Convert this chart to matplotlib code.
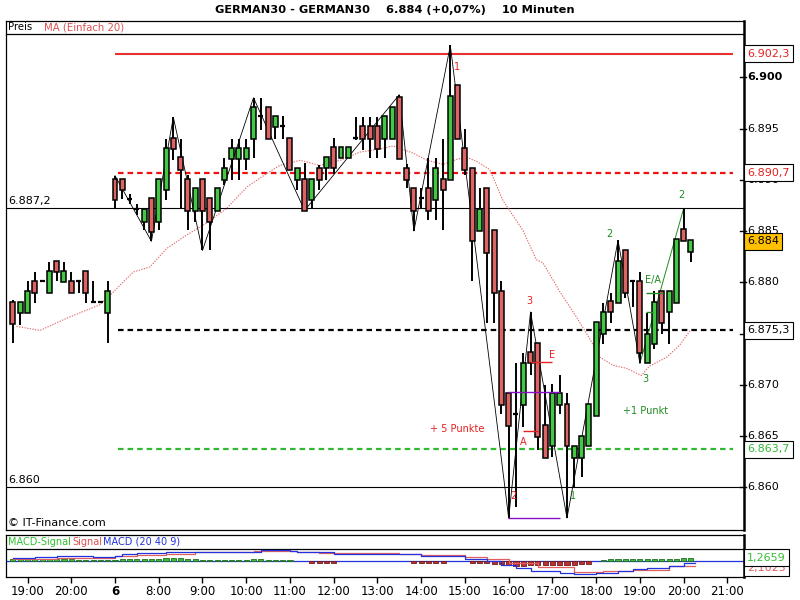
import matplotlib
matplotlib.use("Agg")
import matplotlib.pyplot as plt
import numpy as np

# ---------------- data ----------------
idx = list(range(-14, 80))
opens = [6878.1, 6877.0, 6877.0, 6880.1, 6880.1, 6879.0, 6882.1, 6880.0, 6880.1, 6880.1, 6881.1, 6878.1, 6878.1, 6877.0,
         6890.1, 6890.1, 6888.1, 6887.1, 6885.9, 6888.2, 6885.9, 6889.0, 6894.1, 6892.2, 6890.1, 6887.0, 6890.1, 6888.2,
         6887.0, 6890.0, 6892.0, 6892.0, 6892.0, 6894.0, 6896.2, 6897.1, 6895.1, 6895.2, 6894.1, 6890.0, 6890.1, 6888.0,
         6891.1, 6891.1, 6893.2, 6892.1, 6892.1, 6894.1, 6895.2, 6895.2, 6895.2, 6894.0, 6894.0, 6898.1, 6891.1, 6889.2,
         6888.2, 6889.2, 6888.0, 6890.1, 6890.0, 6899.2, 6893.1, 6891.1, 6885.0, 6889.2, 6885.1, 6879.1, 6869.2, 6867.1,
         6868.0, 6873.2, 6874.1, 6866.1, 6864.0, 6868.0, 6868.1, 6862.9, 6862.9, 6864.0, 6867.0, 6875.0, 6878.2, 6878.0,
         6883.1, 6880.1, 6880.1, 6872.1, 6874.0, 6879.1, 6877.1, 6878.0, 6885.2, 6883.0]
highs = [6878.3, 6878.1, 6880.1, 6881.0, 6880.1, 6882.0, 6882.1, 6882.0, 6881.0, 6880.1, 6881.1, 6880.1, 6878.1, 6880.1,
         6890.4, 6890.1, 6888.6, 6887.6, 6887.1, 6888.2, 6890.1, 6894.0, 6896.1, 6894.0, 6890.5, 6889.2, 6890.1, 6888.2,
         6889.2, 6892.1, 6894.0, 6894.0, 6894.0, 6898.0, 6898.0, 6897.1, 6896.2, 6896.2, 6894.1, 6891.1, 6891.6, 6890.1,
         6891.4, 6892.2, 6894.1, 6893.2, 6893.2, 6896.1, 6896.1, 6896.1, 6896.1, 6896.2, 6897.1, 6898.3, 6891.5, 6889.2,
         6889.2, 6892.1, 6892.1, 6894.0, 6903.1, 6899.2, 6895.0, 6891.1, 6889.2, 6889.2, 6885.1, 6880.1, 6869.2, 6872.1,
         6873.1, 6877.1, 6874.1, 6870.0, 6870.1, 6871.0, 6869.2, 6864.0, 6865.0, 6868.1, 6876.1, 6878.0, 6879.0, 6884.1,
         6883.1, 6880.1, 6881.0, 6877.0, 6879.1, 6879.1, 6879.1, 6884.2, 6887.2, 6884.1]
lows = [6874.1, 6875.8, 6877.0, 6878.0, 6880.1, 6879.0, 6880.1, 6880.0, 6879.0, 6879.0, 6878.0, 6878.1, 6878.1, 6874.1,
        6887.1, 6888.1, 6887.6, 6886.6, 6885.1, 6884.0, 6885.1, 6888.0, 6891.9, 6887.1, 6885.1, 6885.9, 6883.1, 6883.1,
        6887.0, 6889.5, 6890.0, 6890.0, 6891.0, 6892.1, 6894.9, 6894.0, 6894.0, 6894.0, 6891.0, 6889.0, 6887.0, 6887.1,
        6889.0, 6890.0, 6890.6, 6892.1, 6892.1, 6893.9, 6892.9, 6892.1, 6892.1, 6892.1, 6894.0, 6892.0, 6889.2, 6885.0,
        6887.1, 6886.1, 6886.1, 6885.1, 6890.0, 6894.0, 6890.5, 6880.1, 6885.0, 6876.0, 6876.0, 6867.1, 6857.0, 6858.1,
        6865.9, 6871.0, 6863.6, 6862.9, 6863.0, 6867.1, 6857.0, 6859.9, 6861.0, 6864.0, 6867.0, 6874.0, 6876.0, 6878.0,
        6878.5, 6877.6, 6872.1, 6872.1, 6873.5, 6875.0, 6874.0, 6878.0, 6884.0, 6882.0]
closes = [6875.9, 6878.1, 6879.1, 6879.0, 6880.1, 6881.1, 6881.0, 6881.1, 6879.0, 6880.1, 6879.0, 6878.1, 6878.1, 6879.1,
          6888.0, 6889.0, 6888.1, 6887.1, 6887.1, 6884.9, 6890.1, 6893.1, 6893.0, 6891.0, 6887.0, 6889.2, 6887.0, 6885.9,
          6889.2, 6891.1, 6893.1, 6893.1, 6893.1, 6897.1, 6896.2, 6894.0, 6896.2, 6895.2, 6891.0, 6891.1, 6887.0, 6890.1,
          6890.0, 6892.2, 6891.1, 6893.2, 6893.2, 6894.1, 6894.0, 6894.0, 6893.0, 6896.2, 6897.1, 6892.0, 6890.0, 6887.0,
          6888.2, 6887.0, 6891.1, 6889.0, 6898.2, 6894.0, 6891.0, 6884.0, 6887.1, 6882.9, 6879.0, 6868.0, 6866.0, 6867.1,
          6872.1, 6872.1, 6864.9, 6862.9, 6869.2, 6869.2, 6864.0, 6864.0, 6865.0, 6868.1, 6876.1, 6877.1, 6877.1, 6882.1,
          6879.0, 6880.1, 6873.1, 6875.0, 6878.1, 6876.0, 6879.1, 6884.2, 6884.0, 6884.1]

ma_idx = [-13.5, -10.3, -6.6, -2.1, -0.3, 2.5, 4.8, 7.1, 9.8, 12.6, 15.3, 18.1, 20.8, 22.6, 25.4, 28.1, 30.9, 33.6,
          36.4, 38.1, 40.9, 42.8, 45.0, 46.9, 48.2, 49.6, 51.4, 53.2, 56.0, 57.8, 58.7, 61.0, 63.3, 65.2, 66.5, 68.3,
          70.2, 72.2, 73.3, 75.7, 77.5, 78.9]
ma_val = [6875.7, 6875.3, 6876.5, 6877.8, 6879.0, 6881.0, 6881.5, 6883.3, 6884.6, 6885.8, 6887.2, 6889.3, 6890.6,
          6891.4, 6891.9, 6891.4, 6891.9, 6892.7, 6893.0, 6893.3, 6892.6, 6891.9, 6891.5, 6892.0, 6892.2, 6891.8,
          6891.0, 6888.0, 6885.0, 6882.2, 6881.9, 6879.1, 6876.6, 6874.4, 6872.7, 6871.9, 6871.6, 6870.9, 6871.8,
          6872.7, 6873.9, 6875.3]

zig_idx = [0, 5, 8, 12, 19, 26, 39, 41, 46, 54, 57, 62, 69, 72]
zig_val = [6890.4, 6884.0, 6896.1, 6883.1, 6898.0, 6887.0, 6898.3, 6885.0, 6903.1, 6857.0, 6877.1, 6857.0, 6884.1, 6872.1]
zig2_idx = [72, 78]
zig2_val = [6872.1, 6887.2]

macd_idx = [-14, -11, -8, -3, 0, 1, 3, 7, 11, 16, 20, 24, 25, 30, 42, 48, 51, 53, 55, 57, 61, 63, 66, 69, 71, 73, 76, 78, 79.5]
macd_val = [1.2, 1.6, 2.1, 1.8, 2.1, 2.8, 3.2, 3.7, 3.6, 3.8, 4.6, 4.1, 3.6, 3.0, 2.0, 1.0, 0.0, -1.5, -2.8, -3.9,
            -4.8, -5.2, -4.6, -3.9, -3.2, -2.6, -1.9, -0.8, -0.8]
sig_idx = [-14, -11, -8, 0, 3, 7, 11, 19, 25, 28, 39, 42, 48, 51, 54, 58, 63, 67, 71, 76, 79.5]
sig_val = [0.8, 1.0, 1.4, 2.1, 2.5, 3.0, 3.6, 4.0, 3.8, 3.2, 2.8, 2.4, 1.6, 0.9, -0.6, -2.4, -4.4, -3.8, -3.5, -2.0, -2.0]
hist = [0.8, 0.8, 0.8, 0.8, 0.9, 1.0, 1.0, 0.8, 0.8, 0.7, 0.7, 0.7, 0.7, 0.5,
        0.6, 0.9, 0.9, 0.9, 0.9, 0.9, 0.9, 1.4, 1.4, 1.4, 1.0, 0.8, 0.6,
        0.6, 0.6, 0.6, 0.6, 0.6, 0.6, 1.0, 1.0, 0.6, 0.6, 0.6, 0.6,
        0, 0,
        -0.6, -0.6, -0.6, -0.6,
        0, 0, 0, 0, 0, 0, 0, 0, 0, 0,
        -0.6, -0.6, -0.6, -0.6, -0.6,
        0, 0, 0,
        -0.6, -0.6, -0.6,
        -0.9, -1.1, -1.4, -1.8, -1.8, -1.6, -1.6, -1.6, -1.6, -1.4, -1.4, -1.4, -1.0, -1.0,
        0,
        0.6, 0.8, 1.0, 1.0, 1.0, 1.0, 1.0, 1.0, 1.0, 1.0, 1.0, 1.3, 1.3]

tick_pos = [-12, -6, 0, 6, 12, 18, 24, 30, 36, 42, 48, 54, 60, 66, 72, 78, 84]
tick_lab = ["19:00", "20:00", "6", "8:00", "9:00", "10:00", "11:00", "12:00", "13:00", "14:00", "15:00",
            "16:00", "17:00", "18:00", "19:00", "20:00", "21:00"]
price_ticks = [6900, 6895, 6890, 6885, 6880, 6875, 6870, 6865, 6860]

levels = {"r_solid": 6902.3, "r_dash": 6890.7, "k_solid": 6887.2, "k_dash": 6875.3, "g_dash": 6863.7, "k_low": 6860.0}
last_price = 6884.0

# ---------------- styling ----------------
plt.rcParams['font.family'] = ['DejaVu Sans']
RED_BODY = '#DD6464'
GREEN_BODY = '#44C844'
RED_TXT = '#E82020'
GREEN_TXT = '#1E8C1E'

W, H = 800, 600
fig = plt.figure(figsize=(8, 6), dpi=100)

def fx(px):
    return px / W

def fy(py):
    return 1 - py / H

XMIN, XMAX = -14.95, 86.28
ax = fig.add_axes([fx(6), fy(530), fx(738), (530 - 21) / H])
ax.set_xlim(XMIN, XMAX)
ax.set_ylim(6855.83, 6905.49)
ax.set_xticks([])
ax.set_yticks([])
for s in ['left', 'top', 'bottom']:
    ax.spines[s].set_linewidth(0.9)
ax.spines['right'].set_linewidth(1.8)

# legend row
sep = (530 - 34.3) / (530 - 21)
ax.plot([0, 1], [sep, sep], transform=ax.transAxes, color='black', lw=0.9, clip_on=False)
ax.text(0.003, (530 - 27.5) / 509, "Preis", transform=ax.transAxes, fontsize=7.3, va='center', ha='left')
ax.text(0.052, (530 - 27.5) / 509, "MA (Einfach 20)", transform=ax.transAxes, fontsize=7.3, va='center', ha='left',
        color='#E05050')

# horizontal levels
ax.hlines(levels["r_solid"], 0, 84.8, color='#E83030', lw=1.5, zorder=2)
ax.hlines(levels["r_dash"], 0.4, 84.8, color='#EE1111', lw=1.6, linestyles=(0, (2.5, 1.8)), zorder=2)
ax.axhline(levels["k_solid"], color='black', lw=0.8, zorder=2)
ax.hlines(levels["k_dash"], 0.4, 84.8, color='black', lw=1.6, linestyles=(0, (2.5, 1.8)), zorder=2)
ax.hlines(levels["g_dash"], 0.4, 84.8, color='#33B833', lw=1.6, linestyles=(0, (2.5, 1.8)), zorder=2)
ax.axhline(levels["k_low"], color='black', lw=0.8, zorder=2)

# MA
ax.plot(ma_idx, ma_val, color='#E46A6A', lw=0.8, linestyle=(0, (1.2, 1.2)), zorder=3)

# zigzag
ax.plot(zig_idx, zig_val, color='black', lw=0.6, zorder=3)
ax.plot(zig2_idx, zig2_val, color='#1E8C1E', lw=0.7, zorder=3)

# candles
bw = 0.68
for i, o, h, l, c in zip(idx, opens, highs, lows, closes):
    ax.vlines(i, l, h, color='black', lw=1.4, zorder=4)
    if abs(c - o) < 0.05:
        ax.hlines(o, i - bw / 2, i + bw / 2, color='black', lw=1.6, zorder=5)
    else:
        col = GREEN_BODY if c > o else RED_BODY
        ax.bar(i, abs(c - o), bottom=min(o, c), width=bw, color=col, edgecolor='black', lw=1.1, zorder=5)

# annotations
ax.hlines([6869.3, 6857.0], 53.9, 61.0, color='#8A10C8', lw=1.0, zorder=6)
ax.hlines(6872.2, 56.9, 60.0, color=RED_TXT, lw=1.0, zorder=6)
ax.hlines(6865.5, 56.0, 58.0, color=RED_TXT, lw=1.0, zorder=6)
ax.hlines(6879.0, 72.8, 75.2, color=GREEN_TXT, lw=1.0, zorder=6)
ax.hlines(6877.1, 72.8, 73.8, color=GREEN_TXT, lw=1.0, zorder=6)
fs_a = 7
for (xx, yy, t, col) in [(46.9, 6901.0, "1", RED_TXT), (54.7, 6859.1, "2", RED_TXT), (56.8, 6878.2, "3", RED_TXT),
                         (60.0, 6872.9, "E", RED_TXT), (56.0, 6864.4, "A", RED_TXT),
                         (46.9, 6865.7, "+ 5 Punkte", RED_TXT), (72.8, 6867.4, "+1 Punkt", GREEN_TXT),
                         (72.8, 6870.6, "3", GREEN_TXT), (67.8, 6884.7, "2", GREEN_TXT), (77.7, 6888.5, "2", GREEN_TXT),
                         (62.8, 6859.1, "1", GREEN_TXT), (73.8, 6880.2, "E/A", GREEN_TXT)]:
    ax.text(xx, yy, t, color=col, fontsize=fs_a, ha='center', va='center', zorder=7)

# left labels
ax.text(0.003, levels["k_solid"] + 0.25, "6.887,2", fontsize=8, ha='left', va='bottom', transform=ax.get_yaxis_transform())
ax.text(0.003, levels["k_low"] + 0.25, "6.860", fontsize=8, ha='left', va='bottom', transform=ax.get_yaxis_transform())
ax.text(0.003, (530 - 523) / 509, "\u00a9 IT-Finance.com", fontsize=8, ha='left', va='center', transform=ax.transAxes)

# right axis ticks and labels
yt = ax.get_yaxis_transform()
x_tk0 = (740 - 6) / 738
x_tk1 = (746 - 6) / 738
x_lab = (747 - 6) / 738
for p in price_ticks:
    ax.plot([x_tk0, x_tk1], [p, p], transform=yt, color='black', lw=1.0, clip_on=False)
    s = "{:.3f}".format(p / 1000.0)
    ax.text(x_lab, p, s, transform=yt, fontsize=8, ha='left', va='center',
            fontweight='bold' if p == 6900 else 'normal', clip_on=False)

def price_box(p, txt, tcol, fc):
    ax.text(x_lab, p, txt, transform=yt, fontsize=8, ha='left', va='center', color=tcol, clip_on=False, zorder=10,
            bbox=dict(boxstyle='square,pad=0.3', fc=fc, ec='black', lw=0.8))

def de(p):
    s = "{:.1f}".format(p)
    a, b = s.split('.')
    return a[0] + "." + a[1:] + "," + b

price_box(levels["r_solid"], de(levels["r_solid"]), '#E82020', 'white')
price_box(levels["r_dash"], de(levels["r_dash"]), '#E82020', 'white')
price_box(levels["k_dash"], de(levels["k_dash"]), 'black', 'white')
price_box(levels["g_dash"], de(levels["g_dash"]), '#33B833', 'white')
price_box(last_price, "6.884", 'black', '#FFC000')

# ---------------- MACD panel ----------------
ax2 = fig.add_axes([fx(6), fy(577), fx(738), (577 - 535) / H])
ax2.set_xlim(XMIN, XMAX)
ax2.set_ylim(-6.28, 10.52)
ax2.set_yticks([])
for s in ['left', 'top', 'bottom']:
    ax2.spines[s].set_linewidth(0.9)
ax2.spines['right'].set_linewidth(1.8)
sep2 = (577 - 549.3) / 42
ax2.plot([0, 1], [sep2, sep2], transform=ax2.transAxes, color='black', lw=0.9)
ax2.axhline(0, color='#2233DD', lw=0.9, zorder=2)

hcols = ['#3CBB3C' if v > 0 else '#B83030' for v in hist]
hedge = ['#1F6F1F' if v > 0 else '#6F1A1A' for v in hist]
for i, v, c, e in zip(idx, hist, hcols, hedge):
    if v != 0:
        ax2.bar(i, v, width=0.7, color=c, edgecolor=e, lw=0.6, zorder=3)
ax2.step(sig_idx, sig_val, where='post', color='#E06060', lw=0.9, zorder=4)
ax2.step(macd_idx, macd_val, where='post', color='#2233DD', lw=0.9, zorder=5)

ly = (577 - 542) / 42
ax2.text(0.003, ly, "MACD-Signal", transform=ax2.transAxes, fontsize=7, color='#33C033', va='center', ha='left')
ax2.text((72 - 6) / 738, ly, "Signal", transform=ax2.transAxes, fontsize=7, color='#E05050', va='center', ha='left')
ax2.text((103 - 6) / 738, ly, "MACD (20 40 9)", transform=ax2.transAxes, fontsize=7, color='#2233DD', va='center',
         ha='left')

yt2 = ax2.get_yaxis_transform()
ax2.text(x_lab, -2.5, "2,1025", transform=yt2, fontsize=8, color='#E06060', ha='left', va='center', clip_on=False,
         zorder=10, bbox=dict(boxstyle='square,pad=0.3', fc='white', ec='black', lw=0.8))
ax2.text(x_lab, 1.5, "1,2659", transform=yt2, fontsize=8, color='#33C033', ha='left', va='center', clip_on=False,
         zorder=11, bbox=dict(boxstyle='square,pad=0.3', fc='white', ec='black', lw=0.8))

ax2.set_xticks(tick_pos)
ax2.set_xticklabels(tick_lab, fontsize=8.5)
ax2.tick_params(axis='x', direction='out', length=4, width=1.0, pad=2)
for lab in ax2.get_xticklabels():
    if lab.get_text() == "6":
        lab.set_fontweight('bold')

# title
fig.text(fx(395), fy(10), "GERMAN30 - GERMAN30    6.884 (+0,07%)    10 Minuten", ha='center', va='center',
         fontsize=8.2, fontweight='bold')

fig.savefig("out.png", dpi=100)
